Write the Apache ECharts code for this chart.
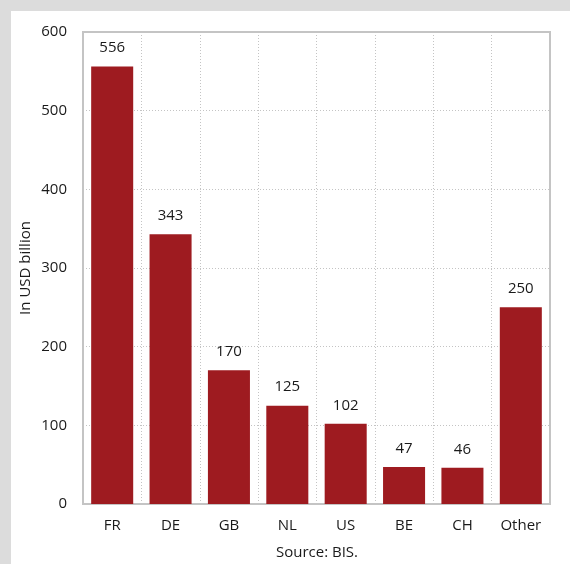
<!DOCTYPE html>
<html>
<head>
<meta charset="utf-8">
<script src="https://cdn.jsdelivr.net/npm/echarts@6/dist/echarts.min.js"></script>
<style>
  html, body { margin: 0; padding: 0; background: #dcdcdc; }
  #panel { position: absolute; left: 11px; top: 11px; width: 559px; height: 553px; background: #ffffff; }
  #chart { position: absolute; left: 0; top: 0; width: 570px; height: 564px; }
</style>
</head>
<body>
<div id="panel"></div>
<div id="chart"></div>
<script>
// Holdings by country, in USD billion
const categories = ['FR', 'DE', 'GB', 'NL', 'US', 'BE', 'CH', 'Other'];
const values = [556, 343, 170, 125, 102, 47, 46, 250];
const yTicks = { min: 0, max: 600, interval: 100 };

const font = '"Open Sans", "Noto Sans", sans-serif';
const chart = echarts.init(document.getElementById('chart'), null, { renderer: 'canvas' });
chart.setOption({
  backgroundColor: 'transparent',
  animation: false,
  textStyle: { fontFamily: font },
  grid: {
    left: 83, right: 20, top: 32, bottom: 60,
    show: true, borderColor: '#c4c4c4', borderWidth: 2, backgroundColor: 'transparent'
  },
  graphic: [{
    type: 'text', x: 317, y: 553,
    style: { text: 'Source: BIS.', font: '15px ' + font, fill: '#1a1a1a', align: 'center', verticalAlign: 'middle' }
  }],
  xAxis: {
    type: 'category',
    data: categories,
    axisLine: { show: false },
    axisTick: { show: false },
    axisLabel: { color: '#1a1a1a', fontSize: 15, margin: 14, fontFamily: font },
    splitLine: { show: true, interval: 0, lineStyle: { color: '#c4c4c4', type: [1, 2], width: 1 } }
  },
  yAxis: {
    type: 'value',
    min: yTicks.min, max: yTicks.max, interval: yTicks.interval,
    name: 'In USD billion',
    nameLocation: 'middle',
    nameGap: 50,
    nameMoveOverlap: false,
    nameTextStyle: { color: '#1a1a1a', fontSize: 15, fontFamily: font },
    axisLine: { show: false },
    axisTick: { show: false },
    axisLabel: { color: '#1a1a1a', fontSize: 15, margin: 16, fontFamily: font },
    splitLine: { show: true, lineStyle: { color: '#c4c4c4', type: [1, 2], width: 1 } }
  },
  series: [{
    type: 'bar',
    data: values,
    barWidth: '72%',
    itemStyle: { color: '#9e1b20' },
    label: { show: true, position: 'top', distance: 11, color: '#1a1a1a', fontSize: 15, fontFamily: font }
  }]
});
</script>
</body>
</html>
